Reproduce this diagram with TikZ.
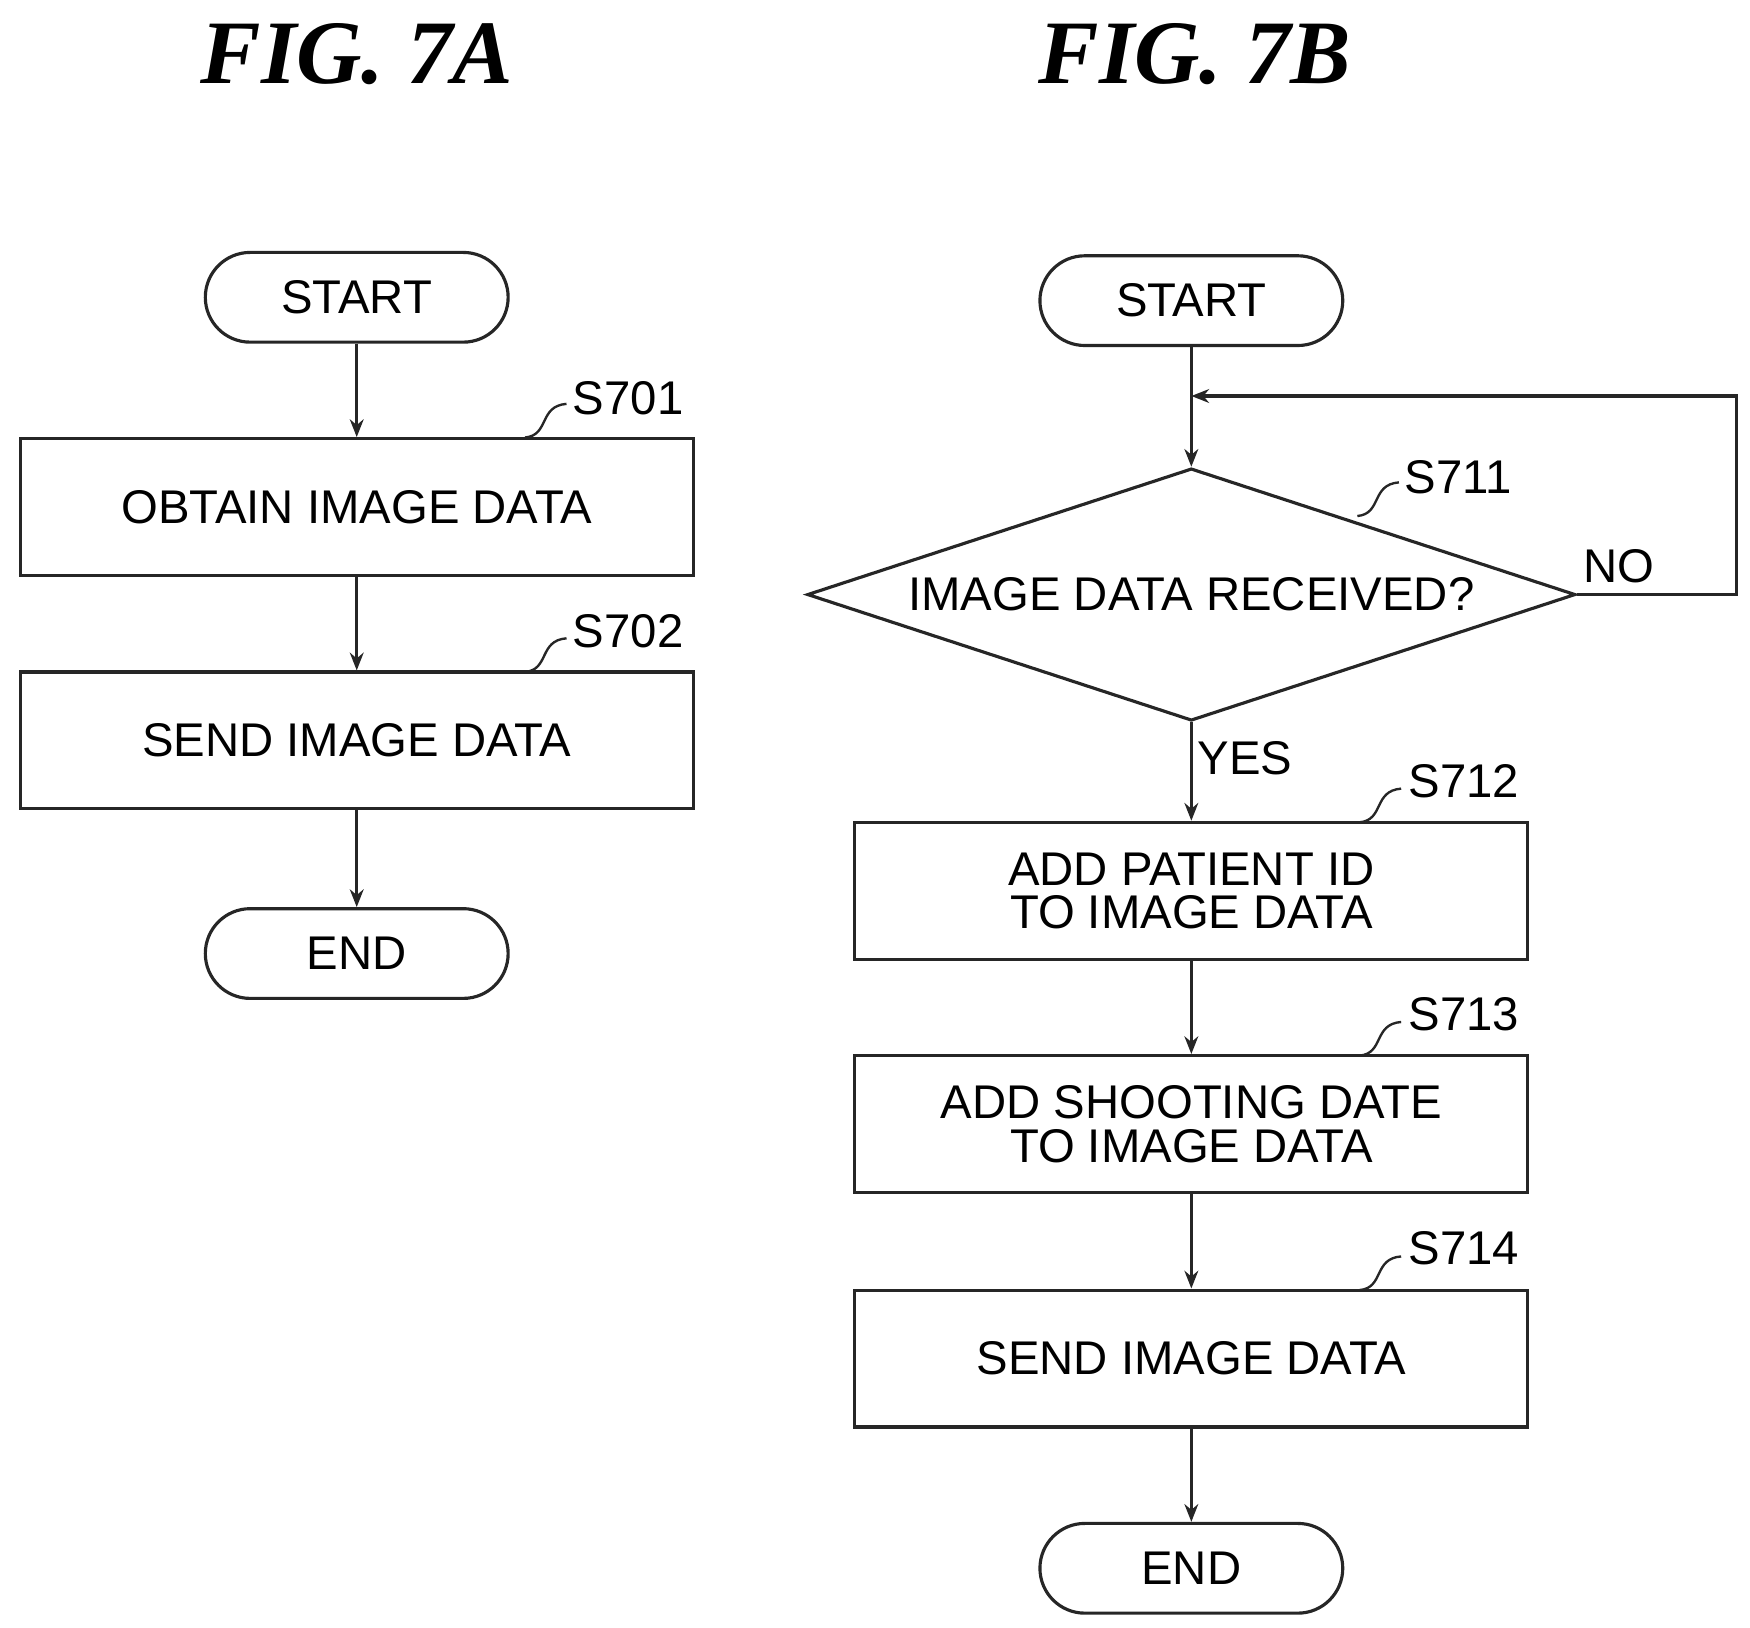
\documentclass[tikz,border=0pt]{standalone}
\usepackage{fontspec}
\setmainfont{Liberation Serif}
\setsansfont{Liberation Sans}
\usetikzlibrary{shapes.geometric,arrows.meta}
\begin{document}
\begin{tikzpicture}[x=0.02cm,y=-0.02cm,
  every node/.style={font=\sffamily\fontsize{24}{28}\selectfont},
  ln/.style={line width=1.6pt,draw=black!85},
  term/.style={ln,rounded corners=0.8cm,minimum width=5.4cm,minimum height=1.6cm},
  box/.style={ln,minimum width=12cm,minimum height=2.44cm,align=center},
  arr/.style={ln,-{Stealth[length=9pt,width=7pt,open]}},
  ttl/.style={font=\fontsize{46}{50}\selectfont\bfseries\itshape},
  sq/.style={ln,line width=1.2pt}]
\useasboundingbox (0,0) rectangle (1560,1451);
\node[ttl] (ta) at (318,48) {FIG. 7A};
\node[ttl] (tb) at (1065,48) {FIG. 7B};
% 7A
\node[term] (sa) at (318,265) {START};
\node[box] (b1) at (318,452) {OBTAIN IMAGE DATA};
\node[box] (b2) at (318,660) {SEND IMAGE DATA};
\node[term] (ea) at (318,850) {END};
\draw[arr] (sa) -- (b1);
\draw[arr] (b1) -- (b2);
\draw[arr] (b2) -- (ea);
\node (l701) at (560,355) {S701};
\draw[sq] (468,390) .. controls (490,388) and (480,362) .. (505,360);
\node (l702) at (560,563) {S702};
\draw[sq] (468,599) .. controls (490,597) and (480,571) .. (505,569);
% 7B
\node[term] (sb) at (1062,268) {START};
\node[ln,diamond,aspect=3.04,minimum width=13.7cm,minimum height=4.5cm,inner sep=0pt] (d) at (1062,530) {IMAGE DATA RECEIVED?};
\node[box] (b12) at (1062,794) {ADD PATIENT ID\\[-6pt]TO IMAGE DATA};
\node[box] (b13) at (1062,1002) {ADD SHOOTING DATE\\[-6pt]TO IMAGE DATA};
\node[box] (b14) at (1062,1211) {SEND IMAGE DATA};
\node[term] (eb) at (1062,1398) {END};
\coordinate (j) at (1062,353);
\draw[arr] (sb) -- (d);
\draw[arr] (d.east) -- (1548,530) -- (1548,353) -- (j);
\draw[arr] (d) -- (b12);
\draw[arr] (b12) -- (b13);
\draw[arr] (b13) -- (b14);
\draw[arr] (b14) -- (eb);
\node (no) at (1443,505) {NO};
\node (yes) at (1110,676) {YES};
\node (l711) at (1300,425) {S711};
\draw[sq] (1210,460) .. controls (1232,458) and (1222,432) .. (1247,430);
\node (l712) at (1305,696) {S712};
\draw[sq] (1212,733) .. controls (1234,731) and (1224,705) .. (1249,703);
\node (l713) at (1305,904) {S713};
\draw[sq] (1212,941) .. controls (1234,939) and (1224,913) .. (1249,911);
\node (l714) at (1305,1113) {S714};
\draw[sq] (1212,1150) .. controls (1234,1148) and (1224,1122) .. (1249,1120);
\end{tikzpicture}
\end{document}
